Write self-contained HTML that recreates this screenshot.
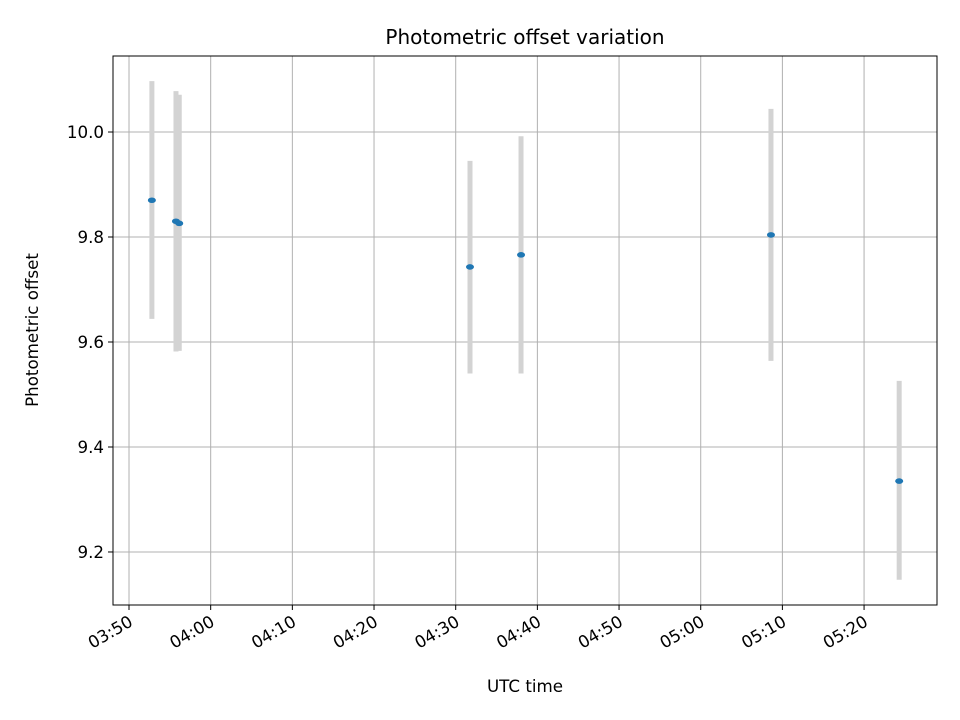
<!DOCTYPE html>
<html><head><meta charset="utf-8"><style>
body{margin:0;background:#fff;}
svg{display:block;font-family:"DejaVu Sans","Liberation Sans",sans-serif;}
</style></head><body>
<svg id="chart" width="960" height="720" viewBox="0 0 960 720">
<text x="525" y="44" font-size="20px" text-anchor="middle">Photometric offset variation</text>
<g id="grid"></g>
<g id="bars"></g>
<g id="pts"></g>
<rect x="113" y="56" width="824" height="549" fill="none" stroke="#000" stroke-width="1"/>
<g id="xt"></g><g id="yt"></g>
<text x="525" y="692" font-size="16.7px" text-anchor="middle">UTC time</text>
<text transform="translate(38,330) rotate(-90)" font-size="16.7px" text-anchor="middle">Photometric offset</text>
</svg>
<script>
// minutes after 03:50
const times=[2.8,5.75,6.15,41.75,48.0,78.6,94.3];
const values=[9.870,9.830,9.826,9.743,9.766,9.804,9.335];
const errLow=[0.226,0.248,0.243,0.203,0.226,0.240,0.188];
const errHigh=[0.227,0.248,0.245,0.202,0.226,0.240,0.191];
const xTickMinutes=[0,10,20,30,40,50,60,70,80,90];
const xTickLabels=["03:50","04:00","04:10","04:20","04:30","04:40","04:50","05:00","05:10","05:20"];
const yTicks=[9.2,9.4,9.6,9.8,10.0];
const yTickLabels=["9.2","9.4","9.6","9.8","10.0"];

const L=113,R=937,T=56,B=605;
const xmin=-1.96,xmax=98.93,ymin=9.099,ymax=10.1448;
const X=v=>L+(v-xmin)/(xmax-xmin)*(R-L);
const Y=v=>B-(v-ymin)/(ymax-ymin)*(B-T);
const NS="http://www.w3.org/2000/svg";
function mk(tag,attrs,parent){const e=document.createElementNS(NS,tag);for(const k in attrs)e.setAttribute(k,attrs[k]);document.getElementById(parent).appendChild(e);return e;}
xTickMinutes.forEach((m,i)=>{
 const x=X(m);
 const g=mk('line',{x1:x,x2:x,y1:T,y2:B,stroke:'#b0b0b0','stroke-width':1},'grid');
 
 
 const t=mk('line',{x1:x,x2:x,y1:B,y2:B+5,stroke:'#000'},'xt');
 
 
 const lb=mk('text',{x:0,y:0,'font-size':'16.7px','text-anchor':'end',transform:`translate(${x+5},${B+20}) rotate(-30)`},'xt');
 lb.textContent=xTickLabels[i];
 
 
});
yTicks.forEach((v,i)=>{
 const y=Y(v);
 const g=mk('line',{x1:L,x2:R,y1:y,y2:y,stroke:'#b0b0b0','stroke-width':1},'grid');
 
 
 const t=mk('line',{x1:L-5,x2:L,y1:y,y2:y,stroke:'#000'},'yt');
 
 
 const lb=mk('text',{x:L-9,y:y+6,'font-size':'16.7px','text-anchor':'end'},'yt');
 lb.textContent=yTickLabels[i];
 
 
});
times.forEach((m,i)=>{
 const x=X(m);
 const b=mk('line',{x1:x,x2:x,y1:Y(values[i]+errHigh[i]),y2:Y(values[i]-errLow[i]),stroke:'#d3d3d3','stroke-width':5},'bars');
 
 
 const p=mk('ellipse',{cx:x,cy:Y(values[i]),rx:4,ry:2.8,fill:'#1f77b4'},'pts');
 
 
});
</script>
</body></html>
